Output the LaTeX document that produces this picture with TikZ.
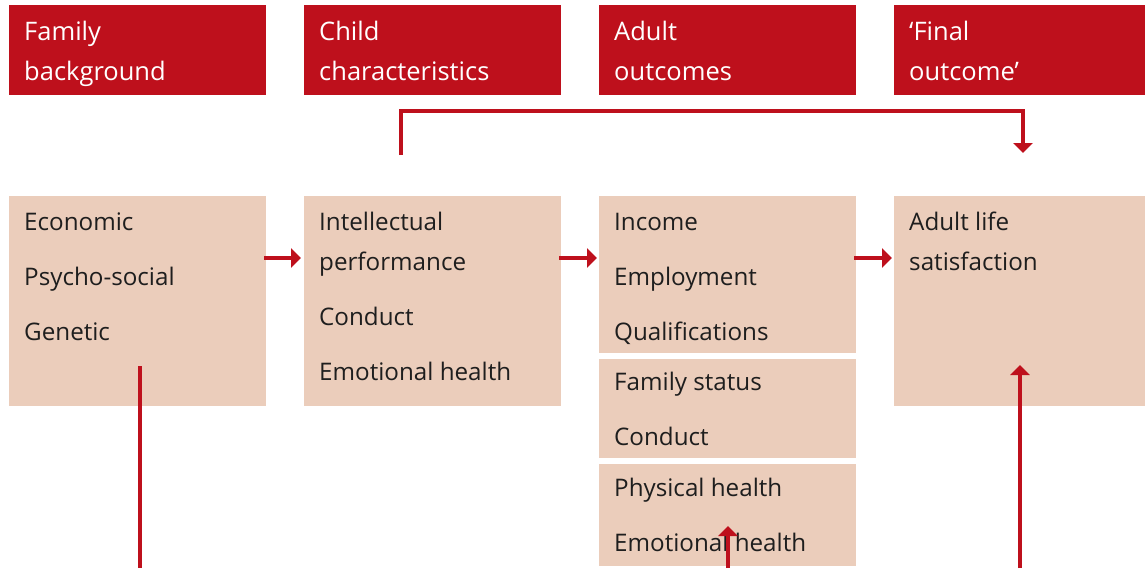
\documentclass[tikz,border=0pt]{standalone}
\usepackage{fontspec}
\setmainfont{Open Sans}
\usetikzlibrary{arrows.meta}
\definecolor{hdrred}{HTML}{BE101C}
\definecolor{boxfill}{HTML}{EBCDBB}
\definecolor{txt}{HTML}{1E1E1E}
\tikzset{
  hdr/.style={fill=hdrred, draw=none, anchor=north west, inner sep=0pt},
  bodybox/.style={fill=boxfill, draw=none, anchor=north west, inner sep=0pt},
  hdrtext/.style={anchor=base west, text=white, font=\fontsize{25.5}{30}\selectfont, inner sep=0pt},
  bodytext/.style={anchor=base west, text=txt, font=\fontsize{24.2}{29}\selectfont, inner sep=0pt},
  link/.style={draw=hdrred, line width=3.2pt},
  arr/.style={link, -{Triangle[length=10pt,width=19pt]}}
}
\begin{document}
\begin{tikzpicture}[x=1pt,y=-1pt]
\useasboundingbox (0,0) rectangle (1145,568);
% headers
\node[hdr, minimum width=257pt, minimum height=90pt] (h1) at (9,5) {};
\node[hdr, minimum width=257pt, minimum height=90pt] (h2) at (304,5) {};
\node[hdr, minimum width=257pt, minimum height=90pt] (h3) at (599,5) {};
\node[hdr, minimum width=251pt, minimum height=90pt] (h4) at (894,5) {};
\node[hdrtext] (h1a) at (24,40) {Family};
\node[hdrtext] (h1b) at (24,80) {background};
\node[hdrtext] (h2a) at (319,40) {Child};
\node[hdrtext] (h2b) at (319,80) {characteristics};
\node[hdrtext] (h3a) at (614,40) {Adult};
\node[hdrtext] (h3b) at (614,80) {outcomes};
\node[hdrtext] (h4a) at (909,40) {‘Final};
\node[hdrtext] (h4b) at (909,80) {outcome’};
% body boxes
\node[bodybox, minimum width=257pt, minimum height=210pt] (b1) at (9,196) {};
\node[bodybox, minimum width=257pt, minimum height=210pt] (b2) at (304,196) {};
\node[bodybox, minimum width=257pt, minimum height=157pt] (b3a) at (599,196) {};
\node[bodybox, minimum width=257pt, minimum height=99pt] (b3b) at (599,359) {};
\node[bodybox, minimum width=257pt, minimum height=102pt] (b3c) at (599,464) {};
\node[bodybox, minimum width=251pt, minimum height=210pt] (b4) at (894,196) {};
% body texts
\node[bodytext] (t11) at (24,230) {Economic};
\node[bodytext] (t12) at (24,285) {Psycho-social};
\node[bodytext] (t13) at (24,340) {Genetic};
\node[bodytext] (t21) at (319,230) {Intellectual};
\node[bodytext] (t22) at (319,270) {performance};
\node[bodytext] (t23) at (319,325) {Conduct};
\node[bodytext] (t24) at (319,380) {Emotional health};
\node[bodytext] (t31) at (614,230) {Income};
\node[bodytext] (t32) at (614,285) {Employment};
\node[bodytext] (t33) at (614,340) {Qualifications};
\node[bodytext] (t34) at (614,390) {Family status};
\node[bodytext] (t35) at (614,445) {Conduct};
\node[bodytext] (t36) at (614,496) {Physical health};
\node[bodytext] (t37) at (614,551) {Emotional health};
\node[bodytext] (t41) at (909,230) {Adult life};
\node[bodytext] (t42) at (909,270) {satisfaction};
% connector coordinates
\coordinate (a1s) at (264,258);
\coordinate (a1e) at (301,258);
\coordinate (a2s) at (559,258);
\coordinate (a2e) at (597,258);
\coordinate (a3s) at (854,258);
\coordinate (a3e) at (892,258);
\coordinate (topS) at (401,155);
\coordinate (topA) at (401,111);
\coordinate (topB) at (1023,111);
\coordinate (topE) at (1023,153);
\coordinate (famS) at (140,366);
\coordinate (famE) at (140,568);
\coordinate (finS) at (1020,568);
\coordinate (finE) at (1020,365);
\coordinate (emoS) at (728,568);
\coordinate (emoE) at (728,526);
% connectors
\draw[arr] (a1s) -- (a1e);
\draw[arr] (a2s) -- (a2e);
\draw[arr] (a3s) -- (a3e);
\draw[arr] (topS) -- (topA) -- (topB) -- (topE);
\draw[link] (famS) -- (famE);
\draw[arr] (finS) -- (finE);
\draw[arr] (emoS) -- (emoE);
\end{tikzpicture}
\end{document}
